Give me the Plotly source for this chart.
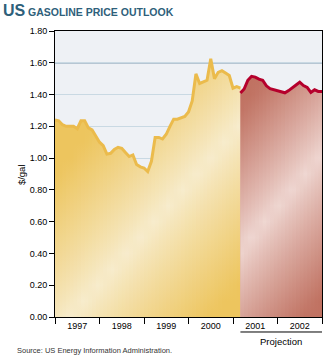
import plotly.graph_objects as go

# ---- data (monthly, $/gal) ----
hist_months = list(range(0, 51))      # Jan 1997 .. Mar 2001
hist_price = [1.24, 1.235, 1.21, 1.20, 1.20, 1.20, 1.185, 1.235, 1.235, 1.19, 1.178, 1.135,
              1.10, 1.079, 1.025, 1.03, 1.055, 1.068, 1.062, 1.035, 1.01, 1.02, 0.96, 0.945,
              0.938, 0.915, 0.98, 1.13, 1.13, 1.12, 1.15, 1.20, 1.245, 1.245, 1.255, 1.262,
              1.29, 1.36, 1.53, 1.47, 1.48, 1.49, 1.625, 1.50, 1.54, 1.55, 1.535, 1.52,
              1.44, 1.45, 1.44]
proj_months = list(range(50, 73))     # Mar 2001 .. Dec 2002 (projection)
proj_price = [1.41, 1.435, 1.49, 1.515, 1.51, 1.497, 1.49, 1.455, 1.437, 1.43, 1.425, 1.418,
              1.411, 1.425, 1.44, 1.46, 1.478, 1.457, 1.445, 1.413, 1.43, 1.42, 1.42]
years = [1997, 1998, 1999, 2000, 2001, 2002]
year_labels = [str(y) for y in years]
y_ticks = [0.0, 0.2, 0.4, 0.6, 0.8, 1.0, 1.2, 1.4, 1.6, 1.8]

START = 1997
hist_x = [START + m / 12 for m in hist_months]
proj_x = [START + m / 12 for m in proj_months]

FONT = "Liberation Sans, Arial, sans-serif"
YMAX = 1.8


def hex2rgb(h):
    h = h.lstrip('#')
    return tuple(int(h[i:i + 2], 16) for i in (0, 2, 4))


def mix(c1, c2, t):
    a, b = hex2rgb(c1), hex2rgb(c2)
    return 'rgb(%d,%d,%d)' % tuple(round(a[i] + (b[i] - a[i]) * t) for i in range(3))


def stripe_scale(xm, h0, x0, slope, w, light, sat, p=0.85):
    h = h0 + slope * (xm - x0)
    stops = []
    n = 18
    for k in range(n + 1):
        yv = YMAX * k / n
        t = min(1.0, abs(yv - h) / w) ** p
        stops.append([k / n, mix(light, sat, t)])
    return stops


fig = go.Figure()


def add_area(xs, ys, light, sat, h0, x0, slope, w, p):
    # base fill
    fig.add_trace(go.Scatter(x=xs, y=ys, mode='none', fill='tozeroy',
                             fillcolor=mix(light, sat, 0.5), hoverinfo='skip',
                             showlegend=False))
    # overlapping slices, each with its own vertical gradient -> diagonal sheen
    for i in range(len(xs) - 1):
        xm = (xs[i] + xs[i + 1]) / 2
        fig.add_trace(go.Scatter(
            x=xs[i:i + 3], y=ys[i:i + 3], mode='none', fill='tozeroy',
            fillgradient=dict(type='vertical', start=0, stop=YMAX,
                              colorscale=stripe_scale(xm, h0, x0, slope, w, light, sat, p)),
            hoverinfo='skip', showlegend=False))


Y_LIGHT, Y_SAT = '#F7ECCD', '#EDC55E'
R_LIGHT, R_SAT = '#EFD7D2', '#C07262'

add_area(hist_x, hist_price, Y_LIGHT, Y_SAT, 0.04, 1997.46, 0.316, 1.0, 0.9)
add_area(proj_x, proj_price, R_LIGHT, R_SAT, 0.42, 2001.17, 0.33, 0.9, 0.9)

fig.add_trace(go.Scatter(x=hist_x, y=hist_price, mode='lines',
                         line=dict(color='#EBBB4C', width=3), showlegend=False,
                         hoverinfo='skip'))
fig.add_trace(go.Scatter(x=proj_x, y=proj_price, mode='lines',
                         line=dict(color='#B5002C', width=3), showlegend=False,
                         hoverinfo='skip'))

fig.update_layout(
    width=325, height=356,
    margin=dict(l=55, r=3, t=31, b=39),
    paper_bgcolor='white', plot_bgcolor='#EEF1F5',
    font=dict(family=FONT, size=9, color='black'),
    showlegend=False,
)

fig.update_xaxes(
    range=[START, years[-1] + 1],
    tickmode='array', tickvals=[y + 0.5 for y in years], ticktext=year_labels,
    ticks='', showgrid=False, zeroline=False,
    showline=True, linecolor='black', linewidth=1, mirror=True,
    tickfont=dict(family=FONT, size=9, color='black'),
    minor=dict(tickmode='array', tickvals=years + [years[-1] + 1], ticks='outside',
               ticklen=6, tickcolor='black', tickwidth=1, showgrid=False),
)
fig.update_yaxes(
    range=[0, YMAX], tickmode='array', tickvals=y_ticks,
    ticktext=['%.2f' % v for v in y_ticks],
    ticks='outside', ticklen=5, tickcolor='black', tickwidth=1,
    showgrid=True, gridcolor='#C9D9E3', gridwidth=1, zeroline=False,
    showline=True, linecolor='black', linewidth=1, mirror=True,
    tickfont=dict(family=FONT, size=9, color='black'),
)

# darker reference gridline at 1.60
fig.add_shape(type='line', xref='paper', yref='y', x0=0, x1=1, y0=1.6, y1=1.6,
              line=dict(color='#7E9CB2', width=1.5), layer='between')

# projection bracket
fig.add_shape(type='line', xref='x', yref='paper', x0=proj_x[0], x1=proj_x[-1],
              y0=-0.0524, y1=-0.0524, line=dict(color='black', width=1))
fig.add_annotation(x=(proj_x[0] + proj_x[-1]) / 2, xref='x', y=-0.084, yref='paper',
                   text='Projection', showarrow=False, xanchor='center', yanchor='middle',
                   font=dict(family=FONT, size=9.5, color='black'))

# y-axis title
fig.add_annotation(x=-0.127, xref='paper', y=0.4965, yref='paper', text='$/gal',
                   textangle=-90, showarrow=False, xanchor='center', yanchor='middle',
                   font=dict(family=FONT, size=9.5, color='black'))

# titles
TITLE_COLOR = '#2E607A'
fig.add_annotation(x=-54 / 267, xref='paper', y=1 + 20 / 286, yref='paper', text='<b>US</b>',
                   showarrow=False, xanchor='left', yanchor='middle',
                   font=dict(family=FONT, size=16, color=TITLE_COLOR))
fig.add_annotation(x=-29 / 267, xref='paper', y=1 + 19 / 286, yref='paper',
                   text='<b>GASOLINE PRICE OUTLOOK</b>',
                   showarrow=False, xanchor='left', yanchor='middle',
                   font=dict(family=FONT, size=10.5, color=TITLE_COLOR))

# source
fig.add_annotation(x=-40 / 267, xref='paper', y=-33 / 286, yref='paper',
                   text='Source: US Energy Information Administration.',
                   showarrow=False, xanchor='left', yanchor='middle',
                   font=dict(family=FONT, size=7.5, color='#333333'))

fig.write_html('out.html')
